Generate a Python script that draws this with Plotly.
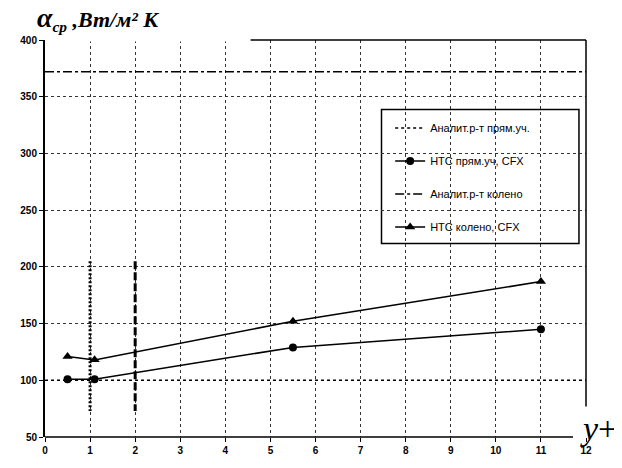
import plotly.graph_objects as go

# Data
x_cfx = [0.5, 1.1, 5.5, 11]
htc_straight = [101, 101, 129, 145]
htc_bend = [121, 118, 152, 187]
x_analit = [0, 12]
analit_straight = [100, 100]
analit_bend = [372, 372]
vline1_x = [1, 1]
vline2_x = [2, 2]
vline_y = [205, 73]
x_ticks = list(range(0, 13))
y_ticks = list(range(50, 401, 50))

fig = go.Figure()

fig.add_trace(go.Scatter(x=x_analit, y=analit_straight, mode="lines",
                         name="Аналит.р-т прям.уч.", legendgroup="a",
                         line=dict(color="black", width=1.5, dash="dot")))
fig.add_trace(go.Scatter(x=x_cfx, y=htc_straight, mode="lines+markers",
                         name="НТС прям.уч, CFX", legendgroup="b",
                         line=dict(color="black", width=1.5),
                         marker=dict(symbol="circle", size=8, color="black")))
fig.add_trace(go.Scatter(x=x_analit, y=analit_bend, mode="lines",
                         name="Аналит.р-т колено", legendgroup="c",
                         line=dict(color="black", width=1.5, dash="dashdot")))
fig.add_trace(go.Scatter(x=x_cfx, y=htc_bend, mode="lines+markers",
                         name="НТС колено, CFX", legendgroup="d",
                         line=dict(color="black", width=1.5),
                         marker=dict(symbol="triangle-up", size=9, color="black")))
fig.add_trace(go.Scatter(x=vline1_x, y=vline_y, mode="lines", showlegend=False,
                         line=dict(color="black", width=3, dash="2px,2px")))
fig.add_trace(go.Scatter(x=vline2_x, y=vline_y, mode="lines", showlegend=False,
                         line=dict(color="black", width=3, dash="8px,3px")))

tickfont = dict(family="Liberation Sans", size=10, color="black", weight="bold")

fig.update_xaxes(range=[0, 12], tickvals=x_ticks, ticks="outside", ticklen=4,
                 tickcolor="black", tickfont=tickfont, showline=False,
                 showgrid=True, gridcolor="#333", griddash="dot", gridwidth=1,
                 zeroline=False)
fig.update_yaxes(range=[50, 400], tickvals=y_ticks, ticks="outside", ticklen=4,
                 tickcolor="black", tickfont=tickfont, showline=True,
                 linecolor="black", linewidth=2,
                 showgrid=True, gridcolor="#333", griddash="dot", gridwidth=1,
                 zeroline=False)

shapes = [
    # hide grid at top-left where reference has none
    dict(type="line", xref="paper", yref="paper", x0=0.005, x1=0.38, y0=1, y1=1,
         line=dict(color="white", width=3), layer="above"),
    # partial top border
    dict(type="line", xref="paper", yref="paper", x0=0.38, x1=1, y0=1, y1=1,
         line=dict(color="black", width=1.5), layer="above"),
    # right border
    dict(type="line", xref="paper", yref="paper", x0=1, x1=1, y0=0.077, y1=1,
         line=dict(color="black", width=1.5), layer="above"),
    # bottom axis line
    dict(type="line", xref="paper", yref="paper", x0=0, x1=0.976, y0=0, y1=0,
         line=dict(color="black", width=1.5), layer="above"),
    # legend box
    dict(type="rect", xref="paper", yref="paper", x0=0.622, x1=0.987,
         y0=0.4875, y1=0.825, fillcolor="white",
         line=dict(color="black", width=1.5), layer="between"),
]

annotations = [
    dict(text="<i><b><span style='font-size:28px'>α</span><sub>ср</sub> ,Вт/м² К</b></i>",
         xref="paper", yref="paper",
         x=-0.018, y=1.008, xanchor="left", yanchor="bottom", showarrow=False,
         font=dict(family="Liberation Serif", size=22, color="black")),
    dict(text="<i>y</i>+", xref="paper", yref="paper",
         x=0.985, y=0.0225, xanchor="left", yanchor="middle", showarrow=False,
         font=dict(family="Liberation Serif", size=34, color="black")),
]

fig.update_layout(
    width=614, height=460,
    margin=dict(l=36, r=36, t=32, b=28),
    plot_bgcolor="white", paper_bgcolor="white",
    shapes=shapes, annotations=annotations,
    legend=dict(x=0.638, y=0.815, xanchor="left", yanchor="top",
                bgcolor="rgba(0,0,0,0)", borderwidth=0,
                font=dict(family="Liberation Sans", size=11, color="black"),
                tracegroupgap=14, itemwidth=30),
    showlegend=True,
)

fig.write_html("out.html")
